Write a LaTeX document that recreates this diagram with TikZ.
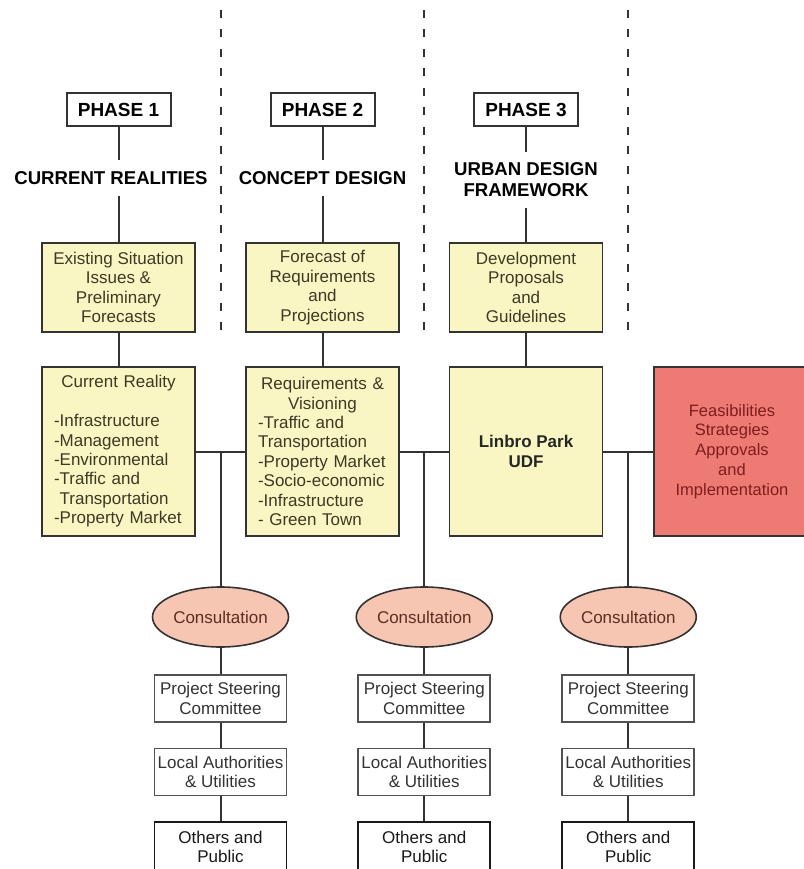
\documentclass[tikz,border=0pt]{standalone}
\usepackage{fontspec}
\setmainfont{Liberation Sans}
\usetikzlibrary{shapes.geometric,calc}
\definecolor{boxyellow}{HTML}{FAF6C4}
\definecolor{boxred}{HTML}{EE7B73}
\definecolor{ovalpink}{HTML}{F7C6B2}
\definecolor{linegray}{HTML}{333333}
\definecolor{textolive}{HTML}{3C3A24}
\definecolor{textred}{HTML}{7E1D1D}
\definecolor{textbrown}{HTML}{5A2E20}
\tikzset{
  phasebox/.style={draw=linegray, line width=2pt, inner sep=0pt, minimum width=104, minimum height=33,
    font=\fontsize{19}{21}\selectfont\bfseries},
  heading/.style={align=center, inner xsep=2pt, inner ysep=11pt, font=\fontsize{18.6}{21}\selectfont\bfseries},
  yellowbox/.style={draw=linegray, line width=1.6pt, fill=boxyellow, text=textolive, align=center,
    minimum width=153, inner sep=0pt, font=\fontsize{17}{19.6}\selectfont},
  listbox/.style={yellowbox, minimum height=169, text width=129, inner xsep=12pt, align=left,
    font=\fontsize{17}{19.4}\selectfont},
  redbox/.style={draw=linegray, line width=1.6pt, fill=boxred, text=textred, align=center,
    minimum width=156, minimum height=169, inner sep=0pt, font=\fontsize{16.5}{19.8}\selectfont},
  oval/.style={ellipse, draw=linegray, line width=1.6pt, fill=ovalpink, text=textbrown,
    minimum width=136, minimum height=60, inner sep=0pt, font=\fontsize{17}{20}\selectfont},
  whitebox/.style={draw=linegray!85, line width=1.6pt, fill=white, text=linegray, align=center,
    minimum width=132, minimum height=47, inner sep=0pt, font=\fontsize{17}{19.5}\selectfont},
  link/.style={draw=linegray, line width=2pt},
  sepline/.style={draw=linegray, line width=2pt, dash pattern=on 8pt off 11.5pt}
}
\begin{document}
\begin{tikzpicture}[x=1pt,y=-1pt]
\useasboundingbox[fill=white] (0,0) rectangle (803,869);

\node[phasebox] (ph1) at (118.5,109.5) {PHASE 1};
\node[phasebox] (ph2) at (322.5,109.5) {PHASE 2};
\node[phasebox] (ph3) at (526,109.5) {PHASE 3};

\node[heading] (hd1) at (111,178) {CURRENT REALITIES};
\node[heading] (hd2) at (322.5,178) {CONCEPT DESIGN};
\node[heading] (hd3) at (526,180) {URBAN DESIGN\\FRAMEWORK};

\node[yellowbox, minimum height=89] (ex1) at (118.5,287.5) {Existing Situation\\Issues \&\\Preliminary\\Forecasts};
\node[yellowbox, minimum height=89] (ex2) at (322.5,287.5) {Forecast of\\Requirements\\and\\Projections};
\node[yellowbox, minimum height=89] (ex3) at (526,287.5) {Development\\Proposals\\and\\Guidelines};

\node[listbox] (cr) at (118.5,451.5) {\hfill Current Reality\hfill\null\\[19.4pt]
  -Infrastructure\\-Management\\-Environmental\\-Traffic and\\\phantom{-}Transportation\\-Property Market};
\node[listbox] (rq) at (322.5,451.5) {\hfill Requirements \&\hfill\null\\\hfill Visioning\hfill\null\\
  -Traffic and\\Transportation\\-Property Market\\-Socio-economic\\-Infrastructure\\- Green Town};
\node[yellowbox, minimum height=169, text=black!85, font=\fontsize{17}{20}\selectfont\bfseries] (udf) at (526,451.5) {Linbro Park\\UDF};
\node[redbox] (fs) at (732,451.5) {Feasibilities\\Strategies\\Approvals\\and\\Implementation};

\coordinate (j1) at ($(cr.east)!.5!(rq.west)$);
\coordinate (j2) at ($(rq.east)!.5!(udf.west)$);
\coordinate (j3) at ($(udf.east)!.5!(fs.west)$);

\foreach \i in {1,2,3} {
  \draw[sepline] (j\i |- 0,10) -- (j\i |- 0,330);
  \node[oval] (co\i) at (j\i |- 0,617) {Consultation};
  \node[whitebox] (ps\i) at (j\i |- 0,698.5) {Project Steering\\Committee};
  \node[whitebox] (la\i) at (j\i |- 0,772) {Local Authorities\\\& Utilities};
  \node[whitebox, draw=black!90, text=black!90, minimum height=50] (op\i) at (j\i |- 0,847) {Others and\\Public};
  \draw[link] (j\i) -- (co\i);
  \draw[link] (co\i) -- (ps\i);
  \draw[link] (ps\i) -- (la\i);
  \draw[link] (la\i) -- (op\i);
}

\draw[link] (ph1) -- (ph1 |- hd1.north);
\draw[link] (ph2) -- (hd2);
\draw[link] (ph3) -- (hd3);
\draw[link] (ex1 |- hd1.south) -- (ex1);
\draw[link] (hd2) -- (ex2);
\draw[link] (hd3) -- (ex3);
\draw[link] (ex1) -- (cr);
\draw[link] (ex2) -- (rq);
\draw[link] (ex3) -- (udf);
\draw[link] (cr) -- (rq);
\draw[link] (rq) -- (udf);
\draw[link] (udf) -- (fs);
\end{tikzpicture}
\end{document}
